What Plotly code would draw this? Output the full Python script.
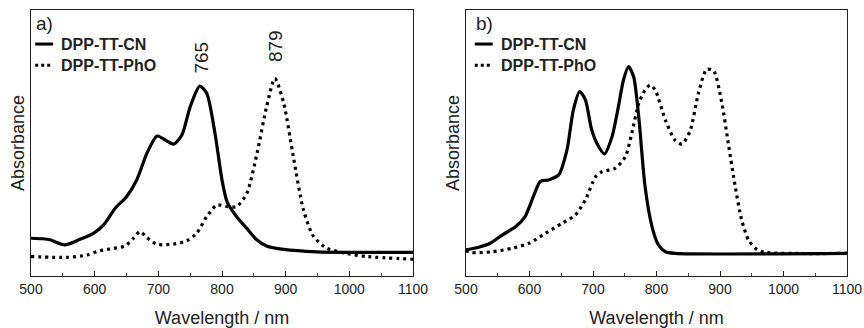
import plotly.graph_objects as go

# ---------------- data (normalized absorbance) ----------------
wl_a_cn = [500, 519, 530, 553, 577, 598, 614, 632, 650, 666, 682, 698, 711, 724, 737, 750,
           765, 776, 789, 800, 808, 823, 839, 855, 870, 897, 949, 1100]
abs_a_cn = [0.142, 0.140, 0.136, 0.117, 0.138, 0.160, 0.192, 0.254, 0.298, 0.361, 0.461, 0.526,
            0.511, 0.496, 0.530, 0.636, 0.714, 0.687, 0.536, 0.361, 0.279, 0.223, 0.179, 0.135,
            0.113, 0.100, 0.091, 0.089]

wl_a_pho = [500, 556, 588, 608, 630, 648, 661, 671, 682, 698, 724, 745, 760, 776, 792, 808,
            823, 839, 855, 870, 883, 897, 912, 928, 944, 965, 996, 1028, 1100]
abs_a_pho = [0.073, 0.070, 0.079, 0.095, 0.104, 0.113, 0.142, 0.167, 0.145, 0.119, 0.120, 0.133,
             0.160, 0.223, 0.267, 0.261, 0.261, 0.311, 0.461, 0.636, 0.743, 0.649, 0.449, 0.248,
             0.148, 0.104, 0.085, 0.073, 0.063]

wl_b_cn = [500, 520, 538, 557, 578, 593, 606, 617, 630, 646, 659, 669, 679, 688, 698, 709, 718,
           730, 740, 748, 756, 764, 772, 782, 793, 803, 814, 829, 1100]
abs_b_cn = [0.098, 0.108, 0.123, 0.154, 0.185, 0.223, 0.298, 0.355, 0.361, 0.380, 0.474, 0.624,
            0.693, 0.662, 0.549, 0.486, 0.459, 0.524, 0.637, 0.737, 0.787, 0.749, 0.599, 0.336,
            0.185, 0.117, 0.091, 0.085, 0.085]

wl_b_pho = [500, 509, 541, 572, 599, 625, 651, 672, 688, 704, 714, 735, 751, 761, 772, 782, 790,
            798, 814, 829, 840, 853, 866, 879, 890, 903, 913, 924, 934, 945, 958, 971, 1100]
abs_b_pho = [0.095, 0.088, 0.091, 0.104, 0.123, 0.160, 0.198, 0.229, 0.286, 0.373, 0.392, 0.405,
             0.449, 0.536, 0.649, 0.699, 0.718, 0.699, 0.586, 0.511, 0.496, 0.546, 0.687, 0.777,
             0.771, 0.649, 0.499, 0.336, 0.211, 0.135, 0.100, 0.089, 0.085]

series_names = ["DPP-TT-CN", "DPP-TT-PhO"]
panel_labels = ["a)", "b)"]
peak_labels = ["765", "879"]
peak_positions = [768, 885]
x_ticks = [500, 600, 700, 800, 900, 1000, 1100]

# ---------------- figure ----------------
FONT = "Liberation Sans, Arial, sans-serif"

fig = go.Figure()

def add_pair(xcn, ycn, xpho, ypho, xa, ya):
    fig.add_trace(go.Scatter(x=xcn, y=ycn, mode="lines", line=dict(color="black", width=3.2, shape="spline", smoothing=0.7),
                             xaxis=xa, yaxis=ya, showlegend=False, name=series_names[0]))
    fig.add_trace(go.Scatter(x=xpho, y=ypho, mode="lines",
                             line=dict(color="black", width=3.2, dash="3px,4px", shape="spline", smoothing=0.7),
                             xaxis=xa, yaxis=ya, showlegend=False, name=series_names[1]))

add_pair(wl_a_cn, abs_a_cn, wl_a_pho, abs_a_pho, "x", "y")
add_pair(wl_b_cn, abs_b_cn, wl_b_pho, abs_b_pho, "x2", "y2")

W, H = 864, 328
dom_a = [31 / W, 413 / W]
dom_b = [466 / W, 847 / W]
top, bottom = 10, 276
ydom = [(H - bottom) / H, (H - top) / H]

xaxis_common = dict(range=[500, 1100], tickvals=x_ticks, ticks="inside", ticklen=5, tickwidth=1.2,
                    tickcolor="#222", showline=True, linecolor="#222", linewidth=1.4, mirror=True,
                    showgrid=False, zeroline=False, automargin=False,
                    minor=dict(ticks="inside", ticklen=3, tickwidth=1, tickcolor="#444", dtick=50, tick0=500, showgrid=False),
                    tickfont=dict(family=FONT, size=14, color="#222"),
                    title=dict(text="Wavelength / nm", font=dict(family=FONT, size=18, color="#222"), standoff=15))
yaxis_common = dict(range=[0, 1], showticklabels=False, ticks="", showline=True, linecolor="#222", linewidth=1.4,
                    mirror=True, showgrid=False, zeroline=False, automargin=False,
                    title=dict(text="Absorbance", font=dict(family=FONT, size=18, color="#222"), standoff=0))

fig.update_layout(
    width=W, height=H, margin=dict(l=0, r=0, t=0, b=0),
    paper_bgcolor="white", plot_bgcolor="white",
    xaxis=dict(domain=dom_a, anchor="y", **xaxis_common),
    yaxis=dict(domain=ydom, anchor="x", **yaxis_common),
    xaxis2=dict(domain=dom_b, anchor="y2", **xaxis_common),
    yaxis2=dict(domain=ydom, anchor="x2", **yaxis_common),
    showlegend=False,
)

# panel labels and in-plot legends
for i, (xr, yr) in enumerate([("x", "y"), ("x2", "y2")]):
    xd, yd = xr + " domain", yr + " domain"
    off = 0.0 if i == 0 else 0.012
    fig.add_annotation(xref=xd, yref=yd, x=0.008 + off, y=0.995, text=panel_labels[i], showarrow=False,
                       xanchor="left", yanchor="top", font=dict(family=FONT, size=19, color="#222"))
    rows = [0.872, 0.792]
    for j, name in enumerate(series_names):
        fig.add_shape(type="line", xref=xd, yref=yd, x0=0.011 + off, x1=0.058 + off, y0=rows[j], y1=rows[j],
                      line=dict(color="black", width=3, dash="solid" if j == 0 else "3px,3px"))
        fig.add_annotation(xref=xd, yref=yd, x=0.074 + off, y=rows[j], text="<b>%s</b>" % name, showarrow=False,
                           xanchor="left", yanchor="middle", font=dict(family=FONT, size=16, color="#222"))

# peak labels (panel a)
for lab, pos, yy in zip(peak_labels, peak_positions, [0.82, 0.865]):
    fig.add_annotation(xref="x", yref="y domain", x=pos, y=yy, text=lab, textangle=-90, showarrow=False,
                       xanchor="center", yanchor="middle", font=dict(family=FONT, size=19, color="#222"))

fig.write_html("out.html", config={"displayModeBar": False},
               post_script="document.body.style.margin='0';document.body.style.overflow='hidden';")
